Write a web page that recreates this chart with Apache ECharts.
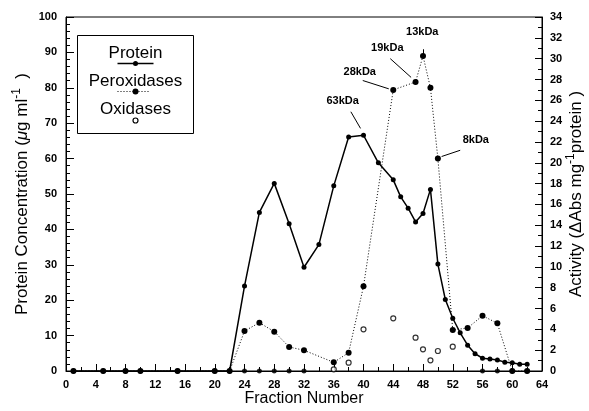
<!DOCTYPE html>
<html>
<head>
<meta charset="utf-8">
<script src="https://cdn.jsdelivr.net/npm/echarts@6/dist/echarts.min.js"></script>
<style>
  html, body { margin: 0; padding: 0; background: #fff; }
  #chart { width: 589px; height: 411px; }
</style>
</head>
<body>
<div id="chart"></div>
<script>
// fraction numbers and values
const proteinFractions = [1, 5, 8, 10, 15, 20, 22, 24, 26, 28, 30, 32, 34, 36, 38, 40, 42, 44, 45, 46, 47, 48, 49, 50, 51, 52, 53, 54, 55, 56, 57, 58, 59, 60, 61, 62];
const proteinValues = [0, 0, 0, 0, 0, 0, 0, 24, 44.8, 53, 41.6, 29.3, 35.7, 52.3, 66.1, 66.6, 58.8, 54, 49.2, 46, 42.1, 44.5, 51.3, 30.2, 20.2, 14.9, 10.8, 7.3, 4.9, 3.6, 3.4, 3.1, 2.5, 2.3, 1.9, 1.9];

const peroxFractions = [1, 5, 8, 10, 15, 20, 22, 24, 26, 28, 30, 32, 36, 38, 40, 44, 47, 48, 49, 50, 52, 54, 56, 58, 60, 62];
const peroxValues = [0, 0, 0, 0, 0, 0, 0, 3.84, 4.64, 3.78, 2.31, 1.99, 0.83, 1.76, 8.13, 27.0, 27.76, 30.26, 27.2, 20.4, 3.94, 4.13, 5.31, 4.58, 0, 0];

const oxidFractions = [24, 26, 28, 30, 32, 36, 38, 40, 44, 47, 48, 49, 50, 52, 56, 58, 60, 62];
const oxidValues = [0, 0, 0, 0, 0, 0.16, 0.8, 4.0, 5.06, 3.2, 2.08, 1.03, 1.92, 2.34, 0, 0, 0, 0];

// molecular weight callouts (activity axis units)
const massLabels = ["63kDa", "28kDa", "19kDa", "13kDa", "8kDa"];
const massLabelAt = [[37.2, 25.9], [39.5, 28.7], [43.2, 31.0], [47.9, 32.6], [55.1, 22.2]];
const massLeaderFrom = [[38.3, 24.9], [39.9, 27.9], [43.6, 30.0], [48.0, 30.9], [53.0, 21.2]];
const massLeaderTo = [[39.6, 23.3], [43.4, 27.1], [46.4, 28.2], [48.0, 30.3], [50.5, 20.6]];

const proteinTicks = { min: 0, max: 100, interval: 10 };
const activityTicks = { min: 0, max: 34, interval: 2 };
const fractionTicks = { min: 0, max: 64, interval: 4 };

const tickFont = { color: "#000", fontFamily: "Liberation Sans, Arial", fontSize: 11, fontWeight: "bold" };
const titleFont = { color: "#000", fontFamily: "Liberation Sans, Arial", fontSize: 16 };
const sideTitleFont = { ...titleFont, fontSize: 17 };
const legendFont = "17px Liberation Sans, Arial";

const zip = (xs, ys) => xs.map((x, i) => [x, ys[i]]);

const chart = echarts.init(document.getElementById("chart"), null, { renderer: "canvas" });

chart.setOption({
  animation: false,
  backgroundColor: "#fff",
  grid: { left: 66, right: 47, top: 17, bottom: 40, outerBoundsMode: "none", show: true, borderColor: "#000", borderWidth: 1 },
  xAxis: {
    type: "value",
    ...fractionTicks,
    name: "Fraction Number",
    nameLocation: "middle",
    nameGap: 20,
    nameMoveOverlap: false,
    nameTextStyle: titleFont,
    axisLine: { lineStyle: { color: "#000", width: 1 } },
    axisTick: { inside: true, length: 7, lineStyle: { color: "#000" } },
    minorTick: { show: true, splitNumber: 2, length: 4, lineStyle: { color: "#000" } },
    axisLabel: { ...tickFont, margin: 8 },
    splitLine: { show: false },
  },
  yAxis: [
    {
      type: "value",
      ...proteinTicks,
      name: "Protein Concentration ({mu|μ}g ml{sup|-1}  )",
      nameLocation: "middle",
      nameGap: 33,
      nameMoveOverlap: false,
      nameTextStyle: { ...sideTitleFont, rich: { mu: { ...sideTitleFont, fontStyle: "italic" }, sup: { ...sideTitleFont, fontSize: 12, verticalAlign: "top", lineHeight: 22 } } },
      axisLine: { show: true, lineStyle: { color: "#000" } },
      axisTick: { inside: true, length: 8, lineStyle: { color: "#000" } },
      minorTick: { show: true, splitNumber: 5, length: 4, lineStyle: { color: "#000" } },
      axisLabel: { ...tickFont, margin: 9 },
      splitLine: { show: false },
    },
    {
      type: "value",
      ...activityTicks,
      position: "right",
      name: "Activity (ΔAbs mg{sup|-1}protein )",
      nameLocation: "middle",
      nameGap: 23,
      nameMoveOverlap: false,
      nameRotate: 90,
      nameTextStyle: { ...sideTitleFont, rich: { sup: { ...sideTitleFont, fontSize: 12, verticalAlign: "top", lineHeight: 22 } } },
      axisLine: { show: true, lineStyle: { color: "#000" } },
      axisTick: { inside: true, length: 7, lineStyle: { color: "#000" } },
      minorTick: { show: true, splitNumber: 2, length: 4, lineStyle: { color: "#000" } },
      axisLabel: { ...tickFont, margin: 8 },
      splitLine: { show: false },
    },
  ],
  series: [
    {
      name: "Protein",
      type: "line",
      data: zip(proteinFractions, proteinValues),
      symbol: "circle",
      symbolSize: 5,
      lineStyle: { color: "#000", width: 1.5 },
      itemStyle: { color: "#000" },
      z: 3,
    },
    {
      name: "Peroxidases",
      type: "line",
      yAxisIndex: 1,
      data: zip(peroxFractions, peroxValues),
      symbol: "circle",
      symbolSize: 6,
      lineStyle: { color: "#000", width: 1, type: [1, 2] },
      itemStyle: { color: "#000" },
      z: 3,
      markLine: {
        silent: true,
        symbol: "none",
        label: { show: false },
        lineStyle: { color: "#000", width: 1, type: "solid" },
        data: massLeaderFrom.map((p, i) => [{ coord: p }, { coord: massLeaderTo[i] }]),
      },
      markPoint: {
        silent: true,
        symbol: "circle",
        symbolSize: 0,
        label: { show: true, position: "inside", color: "#000", fontFamily: "Liberation Sans, Arial", fontSize: 11, fontWeight: "bold", formatter: (p) => p.name },
        data: massLabels.map((name, i) => ({ name, coord: massLabelAt[i] })),
      },
    },
    {
      name: "Oxidases",
      type: "scatter",
      yAxisIndex: 1,
      data: zip(oxidFractions, oxidValues).map((p) => (p[1] === 0
        ? { value: p, symbolSize: 4, itemStyle: { color: "#000" } }
        : { value: p })),
      symbol: "circle",
      symbolSize: 5,
      itemStyle: { color: "#fff", borderColor: "#000", borderWidth: 1.2 },
      z: 4,
    },
  ],
  // legend box: name on top, sample mark underneath
  graphic: [
    {
      type: "group",
      left: 77,
      top: 35,
      children: [
        { type: "rect", shape: { x: 0, y: 0, width: 116, height: 98 }, style: { fill: "#fff", stroke: "#000", lineWidth: 1 } },
        { type: "text", x: 58, y: 18, style: { text: "Protein", font: legendFont, align: "center", verticalAlign: "middle", fill: "#000" } },
        { type: "line", shape: { x1: 40, y1: 28, x2: 76, y2: 28 }, style: { stroke: "#000", lineWidth: 1.5 } },
        { type: "circle", shape: { cx: 58, cy: 28, r: 2.5 }, style: { fill: "#000" } },
        { type: "text", x: 58, y: 46, style: { text: "Peroxidases", font: legendFont, align: "center", verticalAlign: "middle", fill: "#000" } },
        { type: "line", shape: { x1: 40, y1: 56, x2: 72, y2: 56 }, style: { stroke: "#000", lineWidth: 1, lineDash: [1, 2] } },
        { type: "circle", shape: { cx: 58, cy: 56, r: 3 }, style: { fill: "#000" } },
        { type: "text", x: 58, y: 74, style: { text: "Oxidases", font: legendFont, align: "center", verticalAlign: "middle", fill: "#000" } },
        { type: "circle", shape: { cx: 58, cy: 85, r: 2.5 }, style: { fill: "#fff", stroke: "#000", lineWidth: 1.2 } },
      ],
    },
  ],
});
</script>
</body>
</html>
